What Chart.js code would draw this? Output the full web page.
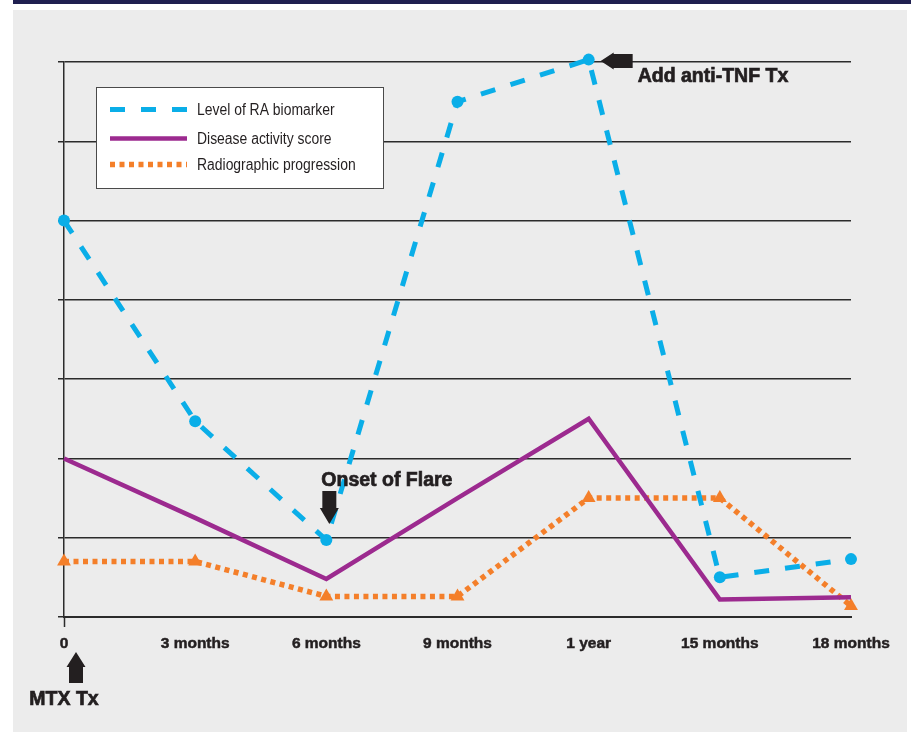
<!DOCTYPE html>
<html>
<head>
<meta charset="utf-8">
<script src="https://cdn.jsdelivr.net/npm/chart.js@4.4.1/dist/chart.umd.min.js"></script>
<style>
  html, body { margin: 0; padding: 0; background: #fff; width: 911px; height: 732px; overflow: hidden; }
  #band  { position: absolute; left: 13px; top: 0; width: 898px; height: 4px; background: #1f2050; }
  #panel { position: absolute; left: 13px; top: 10px; width: 894px; height: 722px; background: #ececec; }
  #wrap  { position: absolute; left: 0; top: 0; width: 911px; height: 732px; }
</style>
</head>
<body>
<div id="band"></div>
<div id="panel"></div>
<div id="wrap"><canvas id="c" width="911" height="732"></canvas></div>
<script>
// Timeline of treatment follow-up
const categories = ['0', '3 months', '6 months', '9 months', '1 year', '15 months', '18 months'];

// Relative levels (arbitrary units, 0-7)
const biomarker       = [5.0, 2.47, 0.97, 6.5, 7.03, 0.5, 0.73];
const diseaseActivity = [2.0, 1.25, 0.48, 1.5, 2.5, 0.22, 0.25];
const radiographic    = [0.7, 0.7, 0.26, 0.26, 1.5, 1.5, 0.14];

const seriesNames = ['Level of RA biomarker', 'Disease activity score', 'Radiographic progression'];
const yTicks = [0, 1, 2, 3, 4, 5, 6, 7];

const INK = '#231f20';
const BLUE = '#0aaee8';
const PURPLE = '#9c2a8f';
const ORANGE = '#f47f2a';
const SANS = '"Liberation Sans", Arial, sans-serif';

function poly(ctx, pts) {
  ctx.beginPath();
  pts.forEach((p, i) => (i ? ctx.lineTo(p[0], p[1]) : ctx.moveTo(p[0], p[1])));
  ctx.closePath();
  ctx.fill();
}

function heavyText(ctx, text, x, y, align) {
  ctx.font = 'bold 19.5px ' + SANS;
  ctx.textAlign = align || 'left';
  ctx.textBaseline = 'alphabetic';
  ctx.fillStyle = INK;
  ctx.strokeStyle = INK;
  ctx.lineWidth = 0.7;
  ctx.fillText(text, x, y);
  ctx.strokeText(text, x, y);
}

// Legend box and treatment annotations
const overlay = {
  id: 'overlay',
  afterDraw(chart) {
    const { ctx } = chart;
    const xs = chart.scales.x, ys = chart.scales.y;
    ctx.save();

    // legend
    ctx.fillStyle = '#ffffff';
    ctx.fillRect(96, 87, 287, 101);
    ctx.strokeStyle = '#4a4a4a';
    ctx.lineWidth = 1;
    ctx.strokeRect(96.5, 87.5, 287, 101);
    const rows = [109.5, 138.5, 164.5];
    chart.data.datasets.forEach((ds, i) => {
      ctx.beginPath();
      ctx.setLineDash(ds.borderDash || []);
      ctx.lineDashOffset = 0;
      ctx.lineCap = 'butt';
      ctx.strokeStyle = ds.borderColor;
      ctx.lineWidth = ds.borderWidth;
      ctx.moveTo(110, rows[i]);
      ctx.lineTo(187, rows[i]);
      ctx.stroke();
      ctx.setLineDash([]);
      // condensed label text
      ctx.save();
      ctx.translate(197, rows[i] + 1);
      ctx.scale(0.87, 1);
      ctx.fillStyle = INK;
      ctx.font = '16px ' + SANS;
      ctx.textAlign = 'left';
      ctx.textBaseline = 'middle';
      ctx.fillText(ds.label, 0, 0);
      ctx.restore();
    });

    ctx.fillStyle = INK;

    // anti-TNF added at 1 year
    const ax = xs.getPixelForValue(4), ay = ys.getPixelForValue(biomarker[4]);
    const tx = ax + 12, ty = ay + 1.5;
    poly(ctx, [[tx, ty], [tx + 13, ty - 8.5], [tx + 13, ty - 7], [tx + 32, ty - 7],
               [tx + 32, ty + 7], [tx + 13, ty + 7], [tx + 13, ty + 8.5]]);
    heavyText(ctx, 'Add anti-TNF Tx', ax + 49, ay + 22.5);

    // flare onset at 6 months
    const fx = xs.getPixelForValue(2), fy = ys.getPixelForValue(biomarker[2]);
    const dx = fx + 3, dy = fy - 16;
    ctx.fillStyle = INK;
    poly(ctx, [[dx, dy], [dx - 9.5, dy - 16], [dx - 7, dy - 16], [dx - 7, dy - 33],
               [dx + 7, dy - 33], [dx + 7, dy - 16], [dx + 9.5, dy - 16]]);
    heavyText(ctx, 'Onset of Flare', fx - 5, fy - 54);

    // methotrexate start at 0
    const mx = xs.getPixelForValue(0), my = ys.getPixelForValue(0);
    const ux = mx + 12, uy = my + 35;
    ctx.fillStyle = INK;
    poly(ctx, [[ux, uy], [ux - 9.5, uy + 15], [ux - 7, uy + 15], [ux - 7, uy + 31],
               [ux + 7, uy + 31], [ux + 7, uy + 15], [ux + 9.5, uy + 15]]);
    heavyText(ctx, 'MTX Tx', mx, my + 88, 'center');

    ctx.restore();
  }
};

new Chart(document.getElementById('c'), {
  type: 'line',
  data: {
    labels: categories,
    datasets: [
      {
        label: seriesNames[0],
        data: biomarker,
        borderColor: BLUE,
        backgroundColor: BLUE,
        borderWidth: 5,
        borderDash: [15, 16],
        pointRadius: 6,
        pointBorderWidth: 0,
        pointBackgroundColor: BLUE,
        tension: 0,
        clip: 12
      },
      {
        label: seriesNames[1],
        data: diseaseActivity,
        borderColor: PURPLE,
        backgroundColor: PURPLE,
        borderWidth: 4.5,
        pointRadius: 0,
        tension: 0
      },
      {
        label: seriesNames[2],
        data: radiographic,
        borderColor: ORANGE,
        backgroundColor: ORANGE,
        borderWidth: 5.5,
        borderDash: [5, 4.5],
        pointStyle: 'triangle',
        pointRadius: 8,
        pointBorderWidth: 0,
        pointBackgroundColor: ORANGE,
        tension: 0,
        clip: 12
      }
    ]
  },
  options: {
    responsive: false,
    animation: false,
    events: [],
    layout: { padding: { left: 58, right: 60, top: 62, bottom: 0 } },
    plugins: { legend: { display: false }, tooltip: { enabled: false } },
    scales: {
      x: {
        type: 'category',
        offset: false,
        afterFit: (s) => { s.height = 115; },
        grid: {
          drawOnChartArea: false,
          drawTicks: true,
          tickLength: 10,
          tickWidth: 1.5,
          tickColor: (c) => (c.index === 0 ? '#2b2b2b' : 'rgba(0,0,0,0)')
        },
        border: { display: true, color: '#2b2b2b', width: 2 },
        ticks: {
          autoSkip: false,
          maxRotation: 0,
          padding: 7,
          color: INK,
          textStrokeColor: INK,
          textStrokeWidth: 0.5,
          font: { family: SANS, size: 15.5, weight: 'bold' }
        }
      },
      y: {
        min: yTicks[0],
        max: yTicks[yTicks.length - 1],
        afterFit: (s) => { s.width = 6; },
        afterBuildTicks: (s) => { s.ticks = yTicks.map(v => ({ value: v })); },
        ticks: { display: false, stepSize: 1 },
        grid: {
          color: '#2b2b2b',
          lineWidth: 1.5,
          drawTicks: true,
          tickLength: 6
        },
        border: { display: true, color: '#2b2b2b', width: 1.5 }
      }
    }
  },
  plugins: [overlay]
});
</script>
</body>
</html>
